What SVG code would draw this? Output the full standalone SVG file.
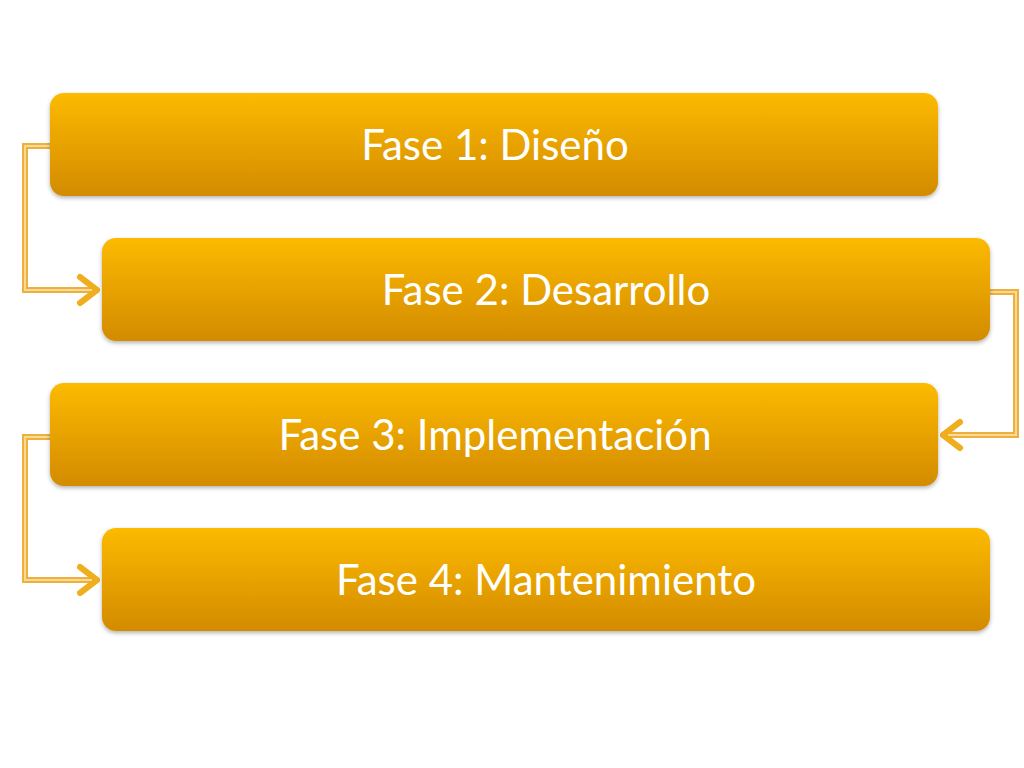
<svg xmlns="http://www.w3.org/2000/svg" width="1024" height="768" viewBox="0 0 1024 768">
<defs>
<linearGradient id="g" x1="0" y1="0" x2="0" y2="1">
<stop offset="0" stop-color="#FCBA00"/>
<stop offset="1" stop-color="#D38B00"/>
</linearGradient>
<filter id="sh" x="-5%" y="-20%" width="110%" height="150%">
<feDropShadow dx="0" dy="2" stdDeviation="2" flood-color="#000" flood-opacity="0.3"/>
</filter>
<marker id="ah" viewBox="0 0 24 34" refX="21" refY="17" markerWidth="24" markerHeight="34" markerUnits="userSpaceOnUse" orient="auto">
<path d="M4,4 L21,17 L4,30" fill="none" stroke="#EFAE1E" stroke-width="6" stroke-linecap="round" stroke-linejoin="round"/>
</marker>
</defs>
<style>
.box{fill:url(#g);filter:url(#sh);}
.lbl{font-family:Lato,"Open Sans","Liberation Sans",sans-serif;font-size:42px;fill:#fff;text-anchor:middle;}
.co{fill:none;stroke:#EDB040;stroke-width:6;stroke-linejoin:miter;}
.ci{fill:none;stroke:#F9DA90;stroke-width:2;}
</style>
<g id="connectors">
<path class="co" d="M50,146 H25 V290 H97" marker-end="url(#ah)"/>
<path class="ci" d="M50,146 H25 V290 H92"/>
<path class="co" d="M990,292 H1016 V435 H943" marker-end="url(#ah)"/>
<path class="ci" d="M990,292 H1016 V435 H948"/>
<path class="co" d="M50,437 H25 V580 H97" marker-end="url(#ah)"/>
<path class="ci" d="M50,437 H25 V580 H92"/>
</g>
<g id="fase1"><rect class="box" x="50" y="93" width="888" height="103" rx="14"/><text class="lbl" x="495" y="160">Fase 1: Diseño</text></g>
<g id="fase2"><rect class="box" x="102" y="238" width="888" height="103" rx="14"/><text class="lbl" x="546" y="305">Fase 2: Desarrollo</text></g>
<g id="fase3"><rect class="box" x="50" y="383" width="888" height="103" rx="14"/><text class="lbl" x="495" y="450">Fase 3: Implementación</text></g>
<g id="fase4"><rect class="box" x="102" y="528" width="888" height="103" rx="14"/><text class="lbl" x="546" y="595">Fase 4: Mantenimiento</text></g>
</svg>
